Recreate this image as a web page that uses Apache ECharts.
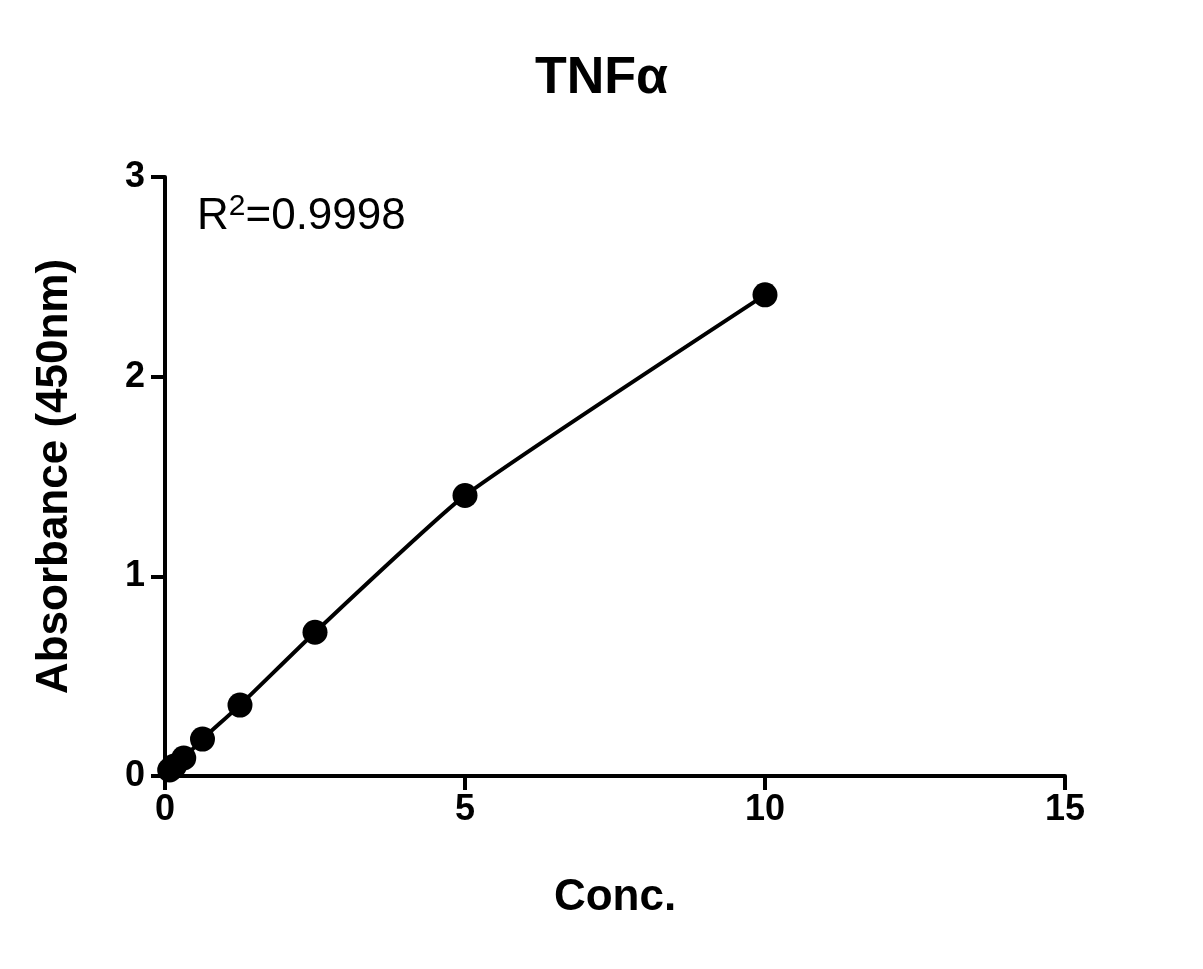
<!DOCTYPE html><html><head><meta charset="utf-8"><script src="https://cdn.jsdelivr.net/npm/echarts@6/dist/echarts.min.js"></script>
<style>html,body{margin:0;padding:0;background:#fff}#c{width:1203px;height:969px}</style></head><body><div id="c"></div><script>
const conc = [0.078, 0.156, 0.3125, 0.625, 1.25, 2.5, 5, 10];
const absorbance = [0.03, 0.05, 0.09, 0.185, 0.355, 0.72, 1.405, 2.41];
const xTicks = [0, 5, 10, 15];
const yTicks = [0, 1, 2, 3];
const data = conc.map((c, i) => [c, absorbance[i]]);
const F = 'Liberation Sans, Arial, sans-serif';
const chart = echarts.init(document.getElementById('c'));
chart.setOption({
  animation: false,
  title: {text: 'TNFα', left: 'center', top: 48, textStyle: {fontFamily: F, fontSize: 52, fontWeight: 'bold', color: '#000'}},
  grid: {left: 165, right: 138, top: 177, bottom: 193},
  xAxis: {type: 'value', min: 0, max: 15, interval: 5, name: 'Conc.', nameLocation: 'middle', nameGap: 100,
    nameTextStyle: {fontFamily: F, fontSize: 44, fontWeight: 'bold', color: '#000'},
    axisLine: {lineStyle: {color: '#000', width: 4}}, axisTick: {show: true, length: 14, lineStyle: {color: '#000', width: 4}},
    axisLabel: {fontFamily: F, fontSize: 36, fontWeight: 'bold', color: '#000', margin: 16}, splitLine: {show: false}},
  yAxis: {type: 'value', min: 0, max: 3, interval: 1, name: 'Absorbance (450nm)', nameLocation: 'middle', nameGap: 88,
    nameTextStyle: {fontFamily: F, fontSize: 44, fontWeight: 'bold', color: '#000'},
    axisLine: {show: true, lineStyle: {color: '#000', width: 4}}, axisTick: {show: true, length: 14, lineStyle: {color: '#000', width: 4}},
    axisLabel: {fontFamily: F, fontSize: 36, fontWeight: 'bold', color: '#000', margin: 20}, splitLine: {show: false}},
  graphic: [{type: 'text', left: 197, top: 192, style: {
    text: '{a|R}{s|2}{a|=0.9998}', rich: {a: {fontFamily: F, fontSize: 44, fill: '#000'}, s: {fontFamily: F, fontSize: 30, fill: '#000', verticalAlign: 'top', padding: [0,0,20,0]}}}}],
  series: [{type: 'line', data: data, smooth: 0.15, symbol: 'circle', symbolSize: 25,
    lineStyle: {color: '#000', width: 4}, itemStyle: {color: '#000'}}]
});
</script></body></html>
